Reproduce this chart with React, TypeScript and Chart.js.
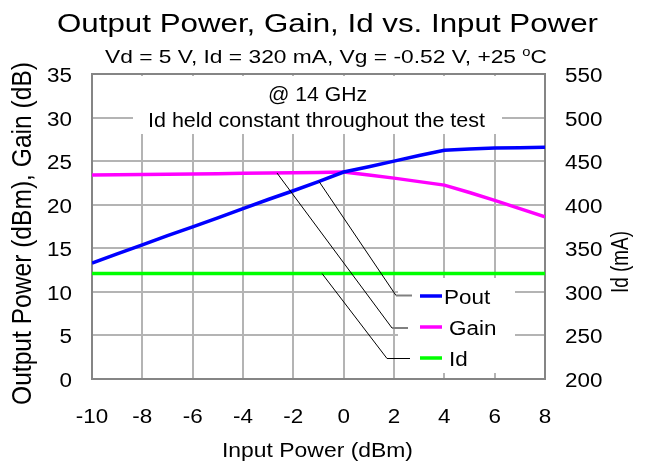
import React, { useEffect, useRef } from 'react';
import { Chart, registerables } from 'chart.js';

Chart.register(...registerables);

// ---- data ----
const inputPower = [-10, -9, -8, -7, -6, -5, -4, -3, -2, -1, 0, 1, 2, 3, 4, 5, 6, 7, 8];
const poutValues = [13.3, 14.35, 15.4, 16.45, 17.45, 18.5, 19.55, 20.6, 21.6, 22.65, 23.75, 24.35, 25.0, 25.65, 26.25, 26.4, 26.5, 26.55, 26.6];
const gainValues = [23.4, 23.43, 23.46, 23.5, 23.53, 23.56, 23.6, 23.63, 23.66, 23.7, 23.75, 23.4, 23.05, 22.65, 22.25, 21.4, 20.5, 19.55, 18.6];
const idValues = [321, 321, 321, 321, 321, 321, 321, 321, 321, 321, 321, 321, 321, 321, 321, 321, 321, 321, 321];

const xTickLabels = [-10, -8, -6, -4, -2, 0, 2, 4, 6, 8];
const leftTickLabels = [0, 5, 10, 15, 20, 25, 30, 35];
const rightTickLabels = [200, 250, 300, 350, 400, 450, 500, 550];

const seriesNames = ['Pout', 'Gain', 'Id'];
const seriesColors = ['#0000ff', '#ff00ff', '#00ff00'];

const titleText = 'Output Power, Gain, Id vs. Input Power';
const subtitleMain = 'Vd = 5 V, Id = 320 mA, Vg = -0.52 V, +25 ';
const subtitleSup = 'o';
const subtitleTail = 'C';
const noteLine1 = '@ 14 GHz';
const noteLine2 = 'Id held constant throughout the test';
const xTitle = 'Input Power (dBm)';
const yTitle = 'Output Power (dBm), Gain (dB)';
const y1Title = 'Id (mA)';

// where each legend callout leaves its curve (input power, dBm)
const calloutAt = [-0.98, -2.65, -0.86];

const FONT = '"Liberation Sans", Arial, Helvetica, sans-serif';

function interp(xs: number[], ys: number[], x: number) {
  for (let i = 0; i < xs.length - 1; i++) {
    if (x >= xs[i] && x <= xs[i + 1]) {
      const t = (x - xs[i]) / (xs[i + 1] - xs[i]);
      return ys[i] + t * (ys[i + 1] - ys[i]);
    }
  }
  return ys[ys.length - 1];
}

function txt(
  ctx: CanvasRenderingContext2D,
  s: string,
  x: number,
  y: number,
  size: number,
  opts: { align?: 'left' | 'center' | 'right'; sx?: number; width?: number } = {}
) {
  ctx.save();
  ctx.font = `${size}px ${FONT}`;
  ctx.textBaseline = 'alphabetic';
  ctx.textAlign = 'left';
  ctx.fillStyle = '#000';
  const w = ctx.measureText(s).width;
  const sx = opts.width ? opts.width / w : opts.sx ?? 1;
  const tw = w * sx;
  let left = x;
  if (opts.align === 'center') left = x - tw / 2;
  else if (opts.align === 'right') left = x - tw;
  ctx.translate(left, y);
  ctx.scale(sx, 1);
  ctx.fillText(s, 0, 0);
  ctx.restore();
}

function vtxt(
  ctx: CanvasRenderingContext2D,
  s: string,
  cx: number,
  cy: number,
  size: number,
  length: number,
  thick: number
) {
  ctx.save();
  ctx.font = `${size}px ${FONT}`;
  ctx.fillStyle = '#000';
  const w = ctx.measureText(s).width;
  ctx.translate(cx, cy);
  ctx.rotate(-Math.PI / 2);
  ctx.scale(length / w, thick);
  ctx.textAlign = 'center';
  ctx.textBaseline = 'middle';
  ctx.fillText(s, 0, 0);
  ctx.restore();
}

const decorPlugin = {
  id: 'decor',
  beforeDatasetsDraw(chart: any) {
    const { ctx, chartArea } = chart;
    const { left, top, right, bottom } = chartArea;
    ctx.save();
    ctx.fillStyle = '#ffffff';
    // note box (top) and legend box (bottom right)
    ctx.fillRect(left + 41, top + 2, 369, 58);
    ctx.fillRect(left + 306, bottom - 101, 117, 95);
    // frame
    ctx.strokeStyle = '#858585';
    ctx.lineWidth = 2;
    ctx.strokeRect(left, top, right - left, bottom - top);
    ctx.restore();
  },
  afterDraw(chart: any) {
    const { ctx, chartArea } = chart;
    const xs = chart.scales.x;
    const ys = chart.scales.y;
    const y1 = chart.scales.y1;
    const { left, right, bottom } = chartArea;
    const TS = 19.5;
    const SX = 1.15;

    // titles
    txt(ctx, titleText, 327.5, 32, 25, { align: 'center', width: 541 });
    ctx.save();
    ctx.font = `18.5px ${FONT}`;
    const w1 = ctx.measureText(subtitleMain).width;
    const wC = ctx.measureText(subtitleTail).width;
    ctx.font = `12px ${FONT}`;
    const wo = ctx.measureText(subtitleSup).width;
    const ssx = 442 / (w1 + wo + wC);
    ctx.translate(105, 63);
    ctx.scale(ssx, 1);
    ctx.fillStyle = '#000';
    ctx.textBaseline = 'alphabetic';
    ctx.textAlign = 'left';
    ctx.font = `18.5px ${FONT}`;
    ctx.fillText(subtitleMain, 0, 0);
    ctx.font = `12px ${FONT}`;
    ctx.fillText(subtitleSup, w1, -7);
    ctx.font = `18.5px ${FONT}`;
    ctx.fillText(subtitleTail, w1 + wo, 0);
    ctx.restore();

    // tick labels
    xTickLabels.forEach((v) => txt(ctx, String(v), xs.getPixelForValue(v), bottom + 44, TS, { align: 'center', sx: SX }));
    leftTickLabels.forEach((v) => txt(ctx, String(v), left - 20, ys.getPixelForValue(v) + 8, TS, { align: 'right', sx: SX }));
    rightTickLabels.forEach((v) => txt(ctx, String(v), right + 20, y1.getPixelForValue(v) + 8, TS, { align: 'left', sx: SX }));

    // axis titles
    txt(ctx, xTitle, 317.5, 457, 21, { align: 'center', width: 191 });
    vtxt(ctx, yTitle, 23, 233.5, 24.5, 343, 1.15);
    vtxt(ctx, y1Title, 622, 262, 20, 62, 1.15);

    // note text
    txt(ctx, noteLine1, 317.5, 100.5, TS, { align: 'center', width: 99 });
    txt(ctx, noteLine2, 316.5, 126.5, TS, { align: 'center', width: 337 });

    // legend with callouts
    const series = [poutValues, gainValues, idValues];
    const scalesFor = [ys, ys, y1];
    const rowY = [296, 327, 358];
    const stubStart = [left + 304, left + 300, left + 295];
    const stubEnd = [left + 320, left + 316, left + 318];
    const textX = [left + 352, left + 357, left + 357];
    for (let i = 0; i < 3; i++) {
      const xv = calloutAt[i];
      const px = xs.getPixelForValue(xv);
      const py = scalesFor[i].getPixelForValue(interp(inputPower, series[i], xv));
      const sy = rowY[i] + (i === 2 ? 0.5 : i === 1 ? 1 : -0.5);
      ctx.save();
      ctx.strokeStyle = '#000';
      ctx.lineWidth = 1;
      ctx.beginPath();
      ctx.moveTo(px, py);
      ctx.lineTo(stubStart[i], sy);
      ctx.stroke();
      ctx.strokeStyle = i === 2 ? '#000' : '#808080';
      ctx.lineWidth = i === 2 ? 1 : 2;
      ctx.beginPath();
      ctx.moveTo(stubStart[i], sy);
      ctx.lineTo(stubEnd[i], sy);
      ctx.stroke();
      // marker
      ctx.strokeStyle = seriesColors[i];
      ctx.lineWidth = 3.5;
      ctx.beginPath();
      ctx.moveTo(left + 328, rowY[i]);
      ctx.lineTo(left + 350, rowY[i]);
      ctx.stroke();
      ctx.restore();
      txt(ctx, seriesNames[i], textX[i], rowY[i] + 7.5, TS, { align: 'left', sx: SX });
    }
  },
};

export default function App() {
  const ref = useRef<HTMLCanvasElement>(null);
  useEffect(() => {
    if (!ref.current) return;
    const grid = { color: '#b4b4b4', lineWidth: 2, drawTicks: false };
    const chart = new Chart(ref.current, {
      type: 'line',
      data: {
        datasets: [
          {
            label: seriesNames[0],
            data: inputPower.map((x, i) => ({ x, y: poutValues[i] })),
            borderColor: seriesColors[0],
            backgroundColor: seriesColors[0],
            borderWidth: 3.5,
            pointRadius: 0,
            tension: 0,
            yAxisID: 'y',
          },
          {
            label: seriesNames[1],
            data: inputPower.map((x, i) => ({ x, y: gainValues[i] })),
            borderColor: seriesColors[1],
            backgroundColor: seriesColors[1],
            borderWidth: 3.5,
            pointRadius: 0,
            tension: 0,
            yAxisID: 'y',
          },
          {
            label: seriesNames[2],
            data: inputPower.map((x, i) => ({ x, y: idValues[i] })),
            borderColor: seriesColors[2],
            backgroundColor: seriesColors[2],
            borderWidth: 3.5,
            pointRadius: 0,
            tension: 0,
            yAxisID: 'y1',
          },
        ],
      },
      options: {
        animation: false,
        responsive: false,
        events: [],
        layout: { padding: { top: 74, left: 0, right: 0, bottom: 0 } },
        plugins: {
          legend: { display: false },
          title: { display: false },
          tooltip: { enabled: false },
        },
        scales: {
          x: {
            type: 'linear',
            min: -10,
            max: 8,
            ticks: { display: false, stepSize: 2 },
            grid,
            border: { display: false },
            afterFit: (s: any) => {
              s.height = 85;
            },
          },
          y: {
            type: 'linear',
            position: 'left',
            min: 0,
            max: 35,
            ticks: { display: false, stepSize: 5 },
            grid,
            border: { display: false },
            afterFit: (s: any) => {
              s.width = 92;
            },
          },
          y1: {
            type: 'linear',
            position: 'right',
            min: 200,
            max: 550,
            ticks: { display: false, stepSize: 50 },
            grid: { display: false, drawTicks: false },
            border: { display: false },
            afterFit: (s: any) => {
              s.width = 106;
            },
          },
        },
      } as any,
      plugins: [decorPlugin],
    });
    return () => chart.destroy();
  }, []);
  return (
    <div style={{ position: 'fixed', left: 0, top: 0, width: 651, height: 464, background: '#fff' }}>
      <canvas ref={ref} width={651} height={464} style={{ display: 'block', width: 651, height: 464 }} />
    </div>
  );
}
